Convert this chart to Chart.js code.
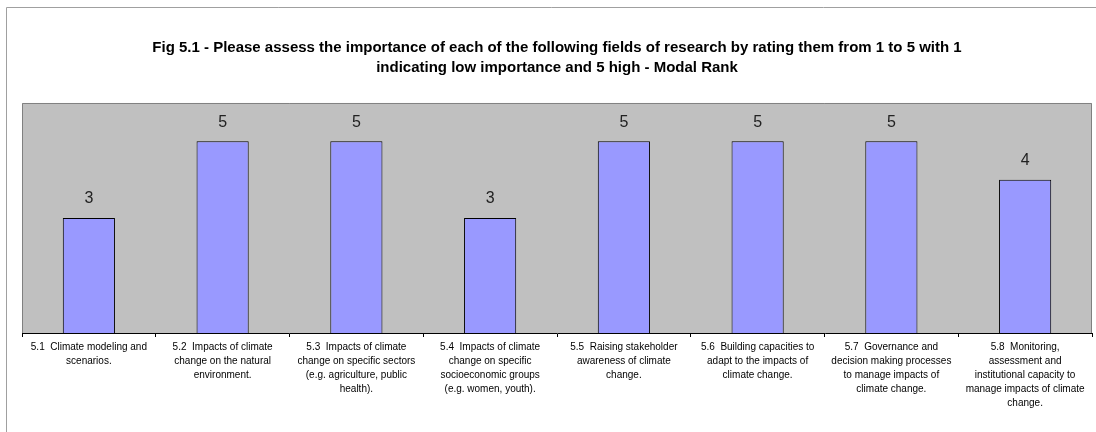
<!DOCTYPE html>
<html>
<head>
<meta charset="utf-8">
<script src="https://cdn.jsdelivr.net/npm/chart.js@4.4.1/dist/chart.umd.min.js"></script>
<style>
  html, body { margin: 0; padding: 0; background: #ffffff; }
  #wrap { width: 1096px; height: 432px; position: relative; }
</style>
</head>
<body>
<div id="wrap"><canvas id="chart" width="1096" height="432"></canvas></div>
<script>
// Research fields (each label split into display lines)
const categories = [
  ["5.1  Climate modeling and", "scenarios."],
  ["5.2  Impacts of climate", "change on the natural", "environment."],
  ["5.3  Impacts of climate", "change on specific sectors", "(e.g. agriculture, public", "health)."],
  ["5.4  Impacts of climate", "change on specific", "socioeconomic groups", "(e.g. women, youth)."],
  ["5.5  Raising stakeholder", "awareness of climate", "change."],
  ["5.6  Building capacities to", "adapt to the impacts of", "climate change."],
  ["5.7  Governance and", "decision making processes", "to manage impacts of", "climate change."],
  ["5.8  Monitoring,", "assessment and", "institutional capacity to", "manage impacts of climate", "change."]
];

// Modal rank for each field
const modalRank = [3, 5, 5, 3, 5, 5, 5, 4];

const titleLines = [
  "Fig 5.1 - Please assess the importance of each of the following fields of research by rating them from 1 to 5 with 1",
  "indicating low importance and 5 high - Modal Rank"
];

// Grey plot background, plot frame and outer chart frame
const frame = {
  id: 'frame',
  beforeDraw(chart) {
    const { ctx, chartArea: a } = chart;
    ctx.save();
    ctx.strokeStyle = '#a0a0a0';
    ctx.lineWidth = 1;
    ctx.beginPath();
    ctx.moveTo(6.5, 432);
    ctx.lineTo(6.5, 7.5);
    ctx.lineTo(1096, 7.5);
    ctx.stroke();
    ctx.fillStyle = '#c0c0c0';
    ctx.fillRect(a.left, a.top, a.right - a.left, a.bottom - a.top);
    ctx.strokeStyle = '#808080';
    ctx.beginPath();
    ctx.moveTo(a.left + 0.5, a.bottom);
    ctx.lineTo(a.left + 0.5, a.top + 0.5);
    ctx.lineTo(a.right - 0.5, a.top + 0.5);
    ctx.lineTo(a.right - 0.5, a.bottom);
    ctx.stroke();
    ctx.restore();
  }
};

// Value written above each bar
const barValues = {
  id: 'barValues',
  afterDatasetsDraw(chart) {
    const { ctx } = chart;
    const meta = chart.getDatasetMeta(0);
    ctx.save();
    ctx.font = '16px "Liberation Sans", Arial, sans-serif';
    ctx.fillStyle = '#222222';
    ctx.textAlign = 'center';
    ctx.textBaseline = 'middle';
    meta.data.forEach((bar, i) => {
      ctx.fillText(String(chart.data.datasets[0].data[i]), bar.x, bar.y - 19);
    });
    ctx.restore();
  }
};

new Chart(document.getElementById('chart'), {
  type: 'bar',
  data: {
    labels: categories,
    datasets: [{
      data: modalRank,
      backgroundColor: '#9999ff',
      borderColor: '#000000',
      borderWidth: 1,
      barPercentage: 0.39,
      categoryPercentage: 1.0
    }]
  },
  options: {
    responsive: false,
    animation: false,
    events: [],
    layout: { padding: { left: 22, right: 4, top: 0, bottom: 0 } },
    plugins: {
      legend: { display: false },
      tooltip: { enabled: false },
      title: {
        display: true,
        text: titleLines,
        color: '#000000',
        font: { family: '"Liberation Sans", Arial, sans-serif', size: 15, weight: 'bold', lineHeight: 1.333 },
        padding: { top: 38, bottom: 25 }
      }
    },
    scales: {
      y: {
        display: false,
        min: 0,
        max: 6
      },
      x: {
        afterFit(scale) { scale.height = 99; },
        border: { display: true, color: '#000000', width: 1 },
        grid: {
          offset: true,
          drawOnChartArea: false,
          drawTicks: true,
          tickLength: 4,
          color: '#000000'
        },
        ticks: {
          maxRotation: 0,
          autoSkip: false,
          padding: 3,
          color: '#000000',
          font: { family: '"Liberation Sans", Arial, sans-serif', size: 10, lineHeight: 1.4 }
        }
      }
    }
  },
  plugins: [frame, barValues]
});
</script>
</body>
</html>
